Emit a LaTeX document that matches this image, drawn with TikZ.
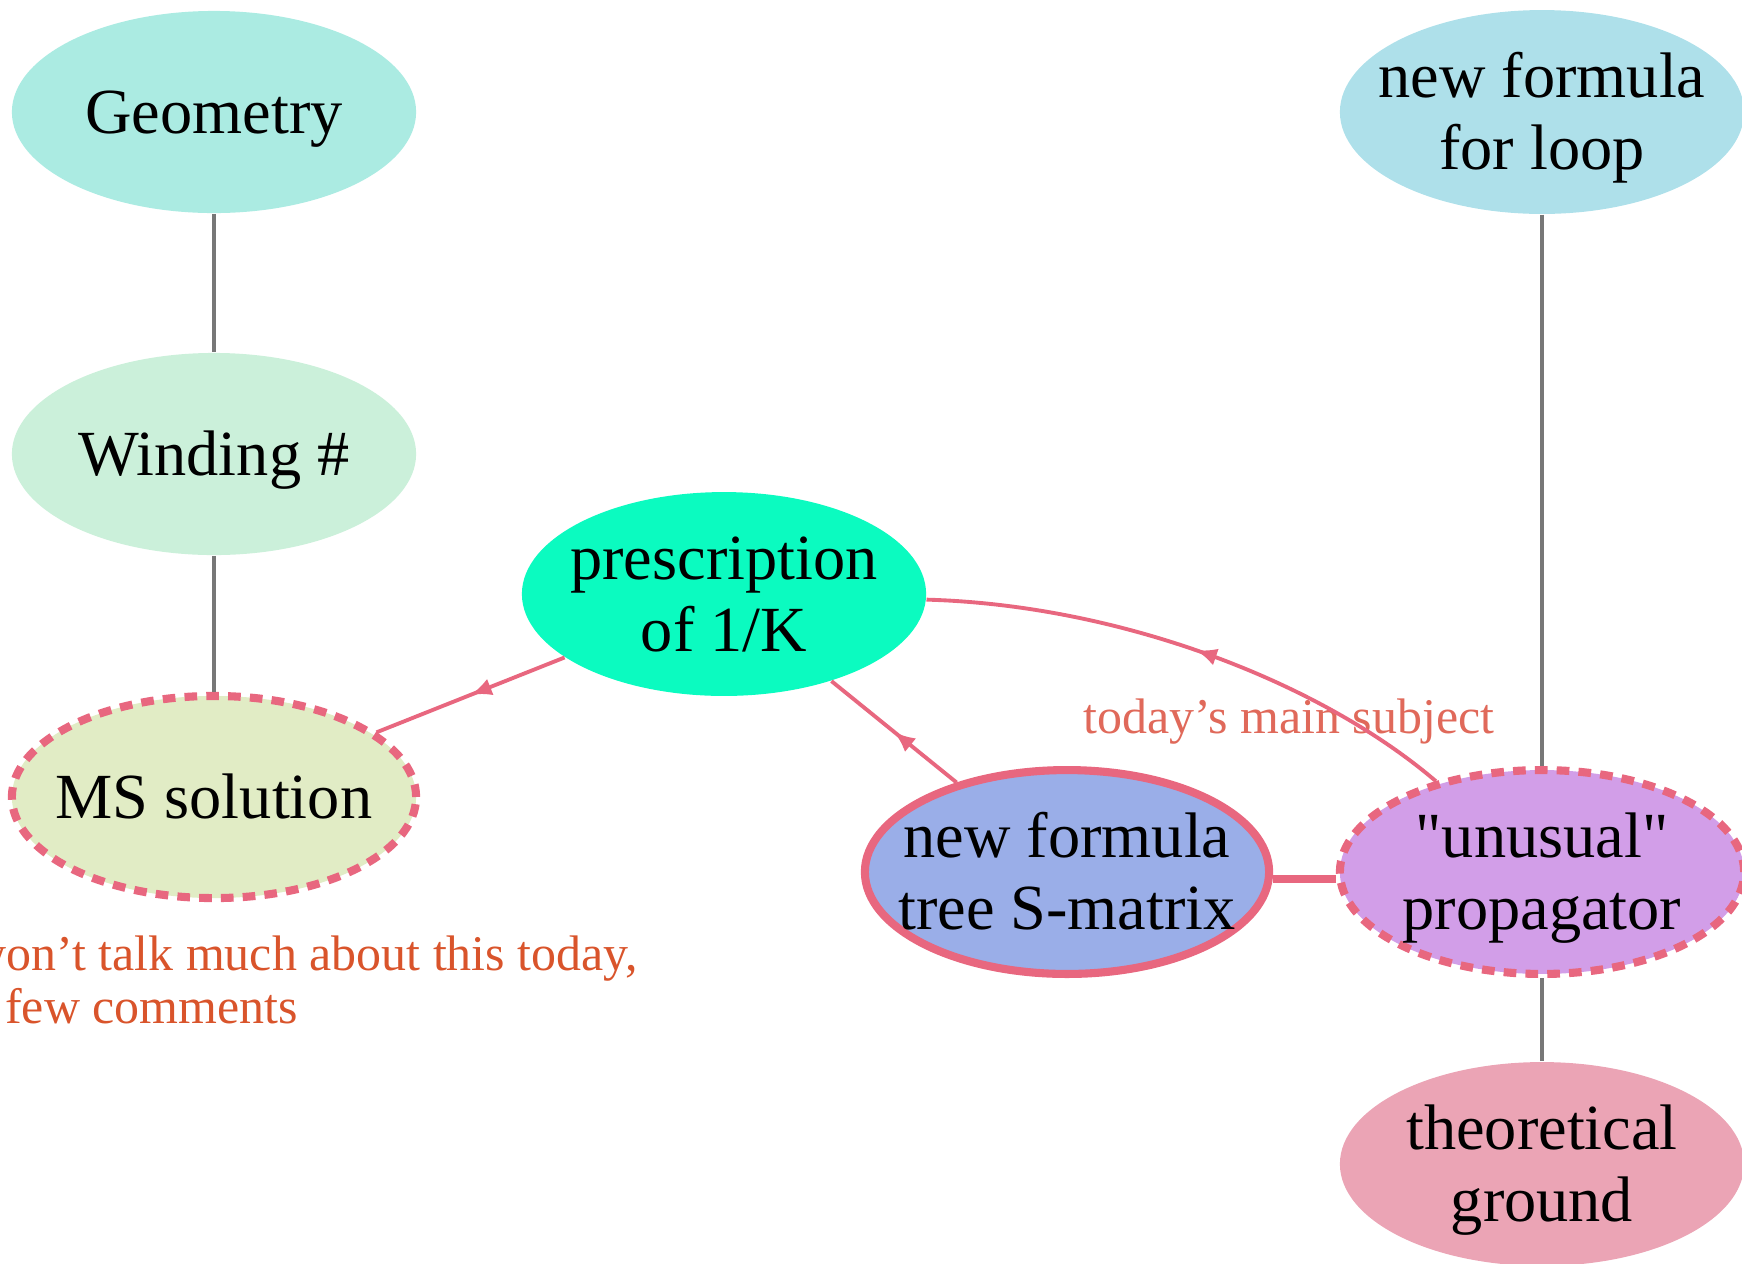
\documentclass[tikz,border=0pt]{standalone}
\usepackage{fontspec}
\setmainfont{Liberation Serif}[Ligatures=TeXOff]
\usetikzlibrary{shapes.geometric,arrows.meta,decorations.markings}

\definecolor{geomfill}{HTML}{ABEBE2}
\definecolor{windfill}{HTML}{CBF0DA}
\definecolor{msfill}{HTML}{E1ECC5}
\definecolor{prescfill}{HTML}{0BFBC0}
\definecolor{smatfill}{HTML}{9AAEE8}
\definecolor{propfill}{HTML}{D29EE8}
\definecolor{loopfill}{HTML}{AEE0EA}
\definecolor{groundfill}{HTML}{EBA4B5}
\definecolor{hotpink}{HTML}{E8677F}
\definecolor{linegray}{HTML}{777777}
\definecolor{notered}{HTML}{E0695A}
\definecolor{noteorange}{HTML}{D9542B}

\newcommand{\ctr}[1]{\makebox[0pt]{\raisebox{-2pt}[\height][\depth]{\begin{tabular}{@{}c@{}}#1\end{tabular}}}}

\begin{document}
\begin{tikzpicture}[x=0.01cm,y=-0.01cm,
  bubble/.style={ellipse, minimum width=4.04cm, minimum height=2.02cm, inner sep=0pt, font=\fontsize{18.3}{20.5}\selectfont},
  hot/.style={draw=hotpink, line width=2.3pt},
  hotdash/.style={draw=hotpink, line width=2.3pt, dash pattern=on 3.6pt off 2.6pt},
  grayline/.style={draw=linegray, line width=0.9pt},
  pinkline/.style={draw=hotpink, line width=1.1pt},
  midarr/.style={postaction={decorate}, decoration={markings, mark=at position 0.5 with {\arrow{Latex[length=6pt,width=5pt]}}}},
  note/.style={inner sep=0pt, font=\fontsize{14.2}{15}\selectfont}]
\useasboundingbox (0,0) rectangle (1742,1263);
\node [bubble, fill=geomfill] (geom) at (214,112){\ctr{Geometry}};
\node [bubble, fill=windfill] (wind) at (214,454){\ctr{Winding \#}};
\node [bubble, fill=msfill, hotdash] (ms) at (214,797){\ctr{MS solution}};
\node [bubble, fill=prescfill] (presc) at (724,594){\ctr{prescription\\of 1/K}};
\node [bubble, fill=smatfill, hot] (smat) at (1067,872){\ctr{new formula\\tree S-matrix}};
\node [bubble, fill=propfill, hotdash] (prop) at (1542,872){\ctr{"unusual"\\propagator}};
\node [bubble, fill=loopfill] (loop) at (1542,112){\ctr{new formula\\for loop}};
\node [bubble, fill=groundfill] (ground) at (1542,1164){\ctr{theoretical\\ground}};
\node [note, text=notered, anchor=base west] (today) at (1083,733){today’s main subject};
\node [note, text=noteorange, anchor=base west, align=left] (aside) at (-30,1023){won’t talk much about this today,\\a few comments};
\draw [grayline] (geom) -- (wind);
\draw [grayline] (wind) -- (ms);
\draw [grayline] (loop) -- (prop);
\draw [grayline] (prop) -- (ground);
\draw [pinkline, midarr] (presc) -- (ms);
\draw [pinkline, midarr] (smat) -- (presc);
\draw [pinkline, midarr] (prop) .. controls (1320,682) and (1120,605) .. (presc);
\draw [hot] ([yshift=-2pt]smat.east) -- ([yshift=-2pt]prop.west);
\end{tikzpicture}
\end{document}
